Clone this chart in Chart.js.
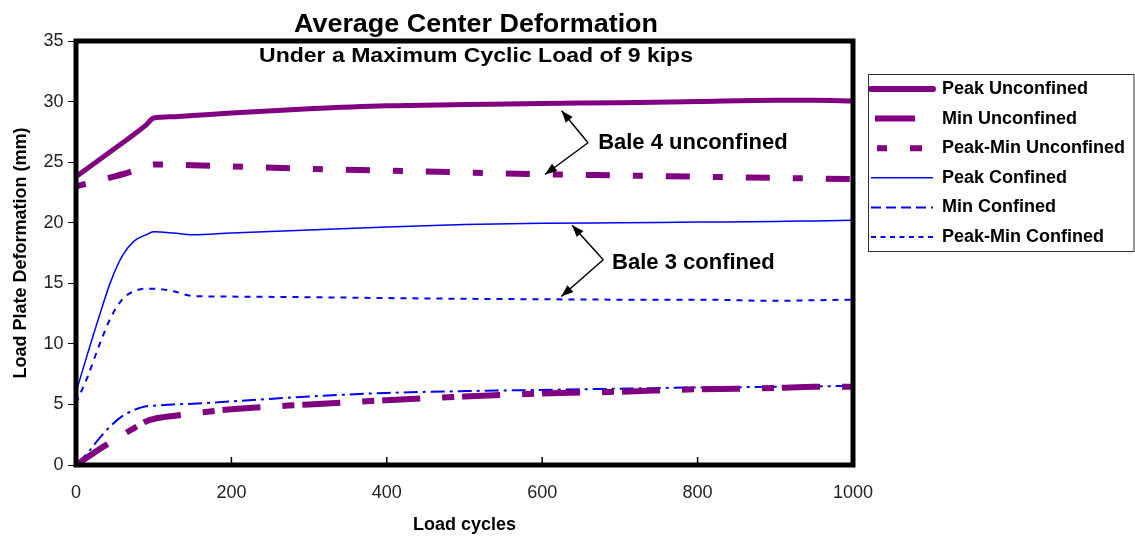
<!DOCTYPE html>
<html><head><meta charset="utf-8">
<script src="https://cdn.jsdelivr.net/npm/chart.js@4.4.0/dist/chart.umd.min.js"></script>
<style>html,body{margin:0;padding:0;background:#fff;}#wrap{width:1135px;height:538px;}</style>
</head><body><div id="wrap"><canvas id="c" width="1135" height="538"></canvas></div>
<script>
// ---- text ----
const chartTitle = 'Average Center Deformation';
const chartSubtitle = 'Under a Maximum Cyclic Load of 9 kips';
const xAxisTitle = 'Load cycles';
const yAxisTitle = 'Load Plate Deformation (mm)';
const seriesNames = ['Peak Unconfined', 'Min Unconfined', 'Peak-Min Unconfined', 'Peak Confined', 'Min Confined', 'Peak-Min Confined'];

// ---- data ----
const cycles = [0, 15, 30, 45, 60, 75, 90, 100, 125, 150, 200, 300, 400, 500, 600, 700, 800, 900, 950, 1000];
const peakUnconfined    = [23.8, 24.5, 25.2, 25.9, 26.6, 27.3, 28.05, 28.65, 28.75, 28.85, 29.05, 29.4, 29.65, 29.75, 29.85, 29.9, 30.0, 30.1, 30.1, 30.05];
const minUnconfined     = [0.0, 0.65, 1.3, 1.9, 2.5, 3.05, 3.6, 3.8, 4.05, 4.25, 4.6, 5.0, 5.35, 5.65, 5.9, 6.05, 6.25, 6.35, 6.45, 6.45];
const peakMinUnconfined = [23.0, 23.25, 23.5, 23.75, 24.0, 24.3, 24.6, 24.8, 24.8, 24.75, 24.65, 24.45, 24.3, 24.15, 24.0, 23.9, 23.8, 23.7, 23.65, 23.6];
const peakConfined      = [6.0, 9.2, 12.3, 15.2, 17.3, 18.5, 19.0, 19.25, 19.15, 19.0, 19.15, 19.4, 19.65, 19.85, 19.95, 20.0, 20.05, 20.1, 20.15, 20.2];
const minConfined       = [0.05, 1.0, 2.2, 3.25, 4.05, 4.55, 4.85, 4.9, 5.0, 5.05, 5.25, 5.65, 5.95, 6.1, 6.2, 6.3, 6.4, 6.45, 6.5, 6.52];
const peakMinConfined   = [5.1, 7.3, 9.9, 12.2, 13.7, 14.35, 14.55, 14.55, 14.35, 13.95, 13.9, 13.85, 13.78, 13.72, 13.68, 13.65, 13.65, 13.55, 13.6, 13.65];

// ---- tick labels ----
const xTicks = [0, 200, 400, 600, 800, 1000];
const yTicks = [0, 5, 10, 15, 20, 25, 30, 35];

// ---- callout annotations (data coordinates) ----
const calloutLabels = ['Bale 4 unconfined', 'Bale 3 confined'];
const calloutJoints = [[659, 26.6], [678.6, 16.94]];
const calloutTipsA  = [[625, 29.25], [638.4, 19.8]];
const calloutTipsB  = [[603.6, 23.98], [624.6, 13.91]];
const calloutText   = [[672, 26.55], [690, 16.7]];

// ---- styles ----
const FONT = "'Liberation Sans', Arial, Helvetica, sans-serif";
Chart.defaults.font.family = FONT;
const PURPLE = '#800080', BLUE = '#0000ff';
const lineStyles = [
  {color: PURPLE, width: 5, dash: [], legendDash: [], legendWidth: 6, cap: 'round'},
  {color: PURPLE, width: 6, dash: [38, 22, 12, 8], legendDash: [0, 4, 40, 40], legendWidth: 6, cap: 'butt'},
  {color: PURPLE, width: 6, dash: [10, 23, 24, 23], legendDash: [0, 6, 10, 23, 12, 40], legendWidth: 6, cap: 'butt'},
  {color: BLUE, width: 1.5, dash: [], legendDash: [], legendWidth: 1.5, cap: 'butt'},
  {color: BLUE, width: 2, dash: [14, 5, 3, 5], legendDash: [10, 5], legendWidth: 2, cap: 'butt'},
  {color: BLUE, width: 2, dash: [6, 6], legendDash: [5, 4.5], legendWidth: 2, cap: 'butt'}
];

const seriesValues = [peakUnconfined, minUnconfined, peakMinUnconfined, peakConfined, minConfined, peakMinConfined];
const pts = arr => cycles.map((c, i) => ({x: c, y: arr[i]}));

const datasets = seriesNames.map((name, i) => ({
  label: name,
  data: pts(seriesValues[i]),
  borderColor: lineStyles[i].color,
  backgroundColor: lineStyles[i].color,
  borderWidth: lineStyles[i].width,
  borderDash: lineStyles[i].dash,
  borderCapStyle: lineStyles[i].cap,
  pointRadius: 0,
  fill: false,
  cubicInterpolationMode: 'monotone'
}));

const framePlugin = {
  id: 'frame',
  afterDatasetsDraw(chart) {
    const {ctx, chartArea: a, scales: {x}} = chart;
    ctx.save();
    ctx.strokeStyle = '#000';
    ctx.lineWidth = 1.5;
    xTicks.forEach(v => {
      const px = x.getPixelForValue(v);
      ctx.beginPath(); ctx.moveTo(px, a.bottom - 8); ctx.lineTo(px, a.bottom); ctx.stroke();
    });
    ctx.lineWidth = 5;
    ctx.strokeRect(a.left, a.top, a.right - a.left, a.bottom - a.top);
    ctx.restore();
  }
};

function arrow(ctx, x0, y0, x1, y1) {
  ctx.beginPath(); ctx.moveTo(x0, y0); ctx.lineTo(x1, y1); ctx.stroke();
  const ang = Math.atan2(y1 - y0, x1 - x0), L = 12, W = 4.5;
  const bx = x1 - L * Math.cos(ang), by = y1 - L * Math.sin(ang);
  ctx.beginPath(); ctx.moveTo(x1, y1);
  ctx.lineTo(bx + W * Math.sin(ang), by - W * Math.cos(ang));
  ctx.lineTo(bx - W * Math.sin(ang), by + W * Math.cos(ang));
  ctx.closePath(); ctx.fill();
}

function stretchedText(ctx, text, cx, baseline, font, targetWidth) {
  ctx.save();
  ctx.font = font; ctx.textAlign = 'center'; ctx.textBaseline = 'alphabetic';
  const w = ctx.measureText(text).width;
  ctx.translate(cx, baseline); ctx.scale(targetWidth / w, 1);
  ctx.fillText(text, 0, 0);
  ctx.restore();
}

const overlayPlugin = {
  id: 'overlay',
  afterDraw(chart) {
    const {ctx, scales: {x, y}, legend} = chart;
    ctx.save();
    ctx.fillStyle = '#000'; ctx.strokeStyle = '#000';
    stretchedText(ctx, chartTitle, 476, 32, 'bold 25px ' + FONT, 364);
    stretchedText(ctx, chartSubtitle, 476, 61.5, 'bold 20px ' + FONT, 434);
    ctx.lineWidth = 1.5;
    calloutLabels.forEach((lab, i) => {
      const jx = x.getPixelForValue(calloutJoints[i][0]), jy = y.getPixelForValue(calloutJoints[i][1]);
      arrow(ctx, jx, jy, x.getPixelForValue(calloutTipsA[i][0]), y.getPixelForValue(calloutTipsA[i][1]));
      arrow(ctx, jx, jy, x.getPixelForValue(calloutTipsB[i][0]), y.getPixelForValue(calloutTipsB[i][1]));
      ctx.font = 'bold 22px ' + FONT; ctx.textAlign = 'left'; ctx.textBaseline = 'middle';
      ctx.fillText(lab, x.getPixelForValue(calloutText[i][0]), y.getPixelForValue(calloutText[i][1]));
    });
    const hb = legend.legendHitBoxes;
    if (hb && hb.length) {
      const l = hb[0].left - 3, t = hb[0].top - 6;
      const last = hb[hb.length - 1];
      const b = last.top + last.height + 5;
      ctx.lineWidth = 1; ctx.strokeStyle = '#333';
      ctx.strokeRect(Math.round(l) + 0.5, Math.round(t) + 0.5, 1134 - Math.round(l) - 0.5, Math.round(b - t));
    }
    ctx.restore();
  }
};

new Chart(document.getElementById('c'), {
  type: 'line',
  data: {datasets},
  options: {
    responsive: false,
    animation: false,
    devicePixelRatio: 1,
    layout: {padding: {top: 41, left: 0, right: 0, bottom: 0}},
    plugins: {
      title: {display: false},
      tooltip: {enabled: false},
      legend: {
        position: 'right', align: 'start', maxWidth: 400,
        title: {display: true, text: '', font: {size: 27.4, lineHeight: 1}, padding: 0},
        labels: {
          usePointStyle: true, pointStyle: 'line', pointStyleWidth: 62, color: '#000',
          font: {size: 18, weight: 'bold', family: FONT}, padding: 11.6,
          generateLabels(chart) {
            const base = Chart.defaults.plugins.legend.labels.generateLabels(chart);
            return base.map((item, i) => Object.assign(item, {
              lineDash: lineStyles[i].legendDash,
              lineWidth: lineStyles[i].legendWidth,
              lineCap: lineStyles[i].cap,
              strokeStyle: lineStyles[i].color,
              fillStyle: lineStyles[i].color,
              pointStyle: 'line'
            }));
          }
        }
      }
    },
    scales: {
      x: {
        type: 'linear', min: 0, max: 1000,
        afterBuildTicks(s) { s.ticks = xTicks.map(v => ({value: v})); },
        ticks: {font: {size: 18}, color: '#222', padding: 17.7, maxRotation: 0, autoSkip: false, callback: v => String(v)},
        grid: {display: false, drawTicks: false},
        border: {display: false},
        title: {display: true, text: xAxisTitle, color: '#000', font: {size: 18, weight: 'bold'}, padding: {top: 0, bottom: 2.2}},
        afterFit(s) { s.height = 73; }
      },
      y: {
        type: 'linear', min: 0, max: 35,
        afterBuildTicks(s) { s.ticks = yTicks.map(v => ({value: v})); },
        ticks: {font: {size: 18}, color: '#222', padding: 4.5, callback: v => String(v)},
        grid: {display: true, drawOnChartArea: false, drawTicks: true, tickLength: 8, color: '#000', lineWidth: 1},
        border: {display: false},
        title: {display: true, text: yAxisTitle, color: '#000', font: {size: 18, weight: 'bold'}, padding: {top: 10, bottom: 0}},
        afterFit(s) { s.width = 76; }
      },
      yR: {
        type: 'linear', position: 'right', display: true, min: 0, max: 1,
        ticks: {display: false}, grid: {display: false, drawTicks: false}, border: {display: false},
        afterFit(s) { s.width = 6.4; }
      }
    }
  },
  plugins: [framePlugin, overlayPlugin]
});
</script>
</body></html>
